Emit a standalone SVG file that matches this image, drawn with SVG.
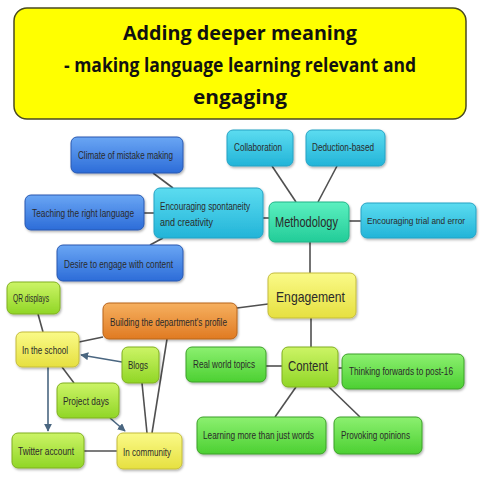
<svg xmlns="http://www.w3.org/2000/svg" width="480" height="480" viewBox="0 0 480 480">
<style>
.t{font-family:"Liberation Sans",Arial,sans-serif;font-size:10.5px;fill:#2a2a2a;}
.big{font-size:15px;}
.sm{font-size:9.5px;}
.title{font-family:"Open Sans","Liberation Sans",sans-serif;font-weight:bold;font-size:20px;fill:#111;text-anchor:middle;}
.c{stroke:#505050;stroke-width:1.6;fill:none;}
.a{stroke:#4a6680;stroke-width:1.6;fill:none;marker-end:url(#arr);}
rect.n{stroke-width:1;filter:url(#sh);}
.blue{fill:url(#gBlue);stroke:#2858b0;}
.cyan{fill:url(#gCyan);stroke:#26a2c4;}
.teal{fill:url(#gTeal);stroke:#20b488;}
.yel{fill:url(#gYel);stroke:#c4bc3c;}
.org{fill:url(#gOrg);stroke:#b8641c;}
.grn{fill:url(#gGrn);stroke:#3ca028;}
.lime{fill:url(#gLime);stroke:#80b020;}
</style>
<defs>
<filter id="sh" x="-10%" y="-10%" width="130%" height="140%"><feDropShadow dx="1" dy="1.5" stdDeviation="1" flood-color="#000" flood-opacity="0.3"/></filter>
<linearGradient id="gBlue" x1="0" y1="0" x2="0" y2="1"><stop offset="0" stop-color="#6aa6f4"/><stop offset="1" stop-color="#2c6cd8"/></linearGradient>
<linearGradient id="gCyan" x1="0" y1="0" x2="0" y2="1"><stop offset="0" stop-color="#5cdcf0"/><stop offset="1" stop-color="#22b4d8"/></linearGradient>
<linearGradient id="gTeal" x1="0" y1="0" x2="0" y2="1"><stop offset="0" stop-color="#5cf0c0"/><stop offset="1" stop-color="#22cc98"/></linearGradient>
<linearGradient id="gYel" x1="0" y1="0" x2="0" y2="1"><stop offset="0" stop-color="#fafa88"/><stop offset="1" stop-color="#e6e040"/></linearGradient>
<linearGradient id="gOrg" x1="0" y1="0" x2="0" y2="1"><stop offset="0" stop-color="#f6b060"/><stop offset="1" stop-color="#e07a22"/></linearGradient>
<linearGradient id="gGrn" x1="0" y1="0" x2="0" y2="1"><stop offset="0" stop-color="#8cf070"/><stop offset="1" stop-color="#4cd032"/></linearGradient>
<linearGradient id="gLime" x1="0" y1="0" x2="0" y2="1"><stop offset="0" stop-color="#ccf466"/><stop offset="1" stop-color="#90d626"/></linearGradient>
<marker id="arr" viewBox="0 0 10 10" refX="9" refY="5" markerWidth="5" markerHeight="5" orient="auto"><path d="M0,0 L10,5 L0,10 z" fill="#4a6680"/></marker>
</defs>
<rect width="480" height="480" fill="#fff"/>
<g id="title">
<rect x="14" y="8" width="452" height="111" rx="13" fill="#ffff00" stroke="#4a4a20" stroke-width="1.5"/>
<text class="title" x="240" y="40" textLength="234" lengthAdjust="spacingAndGlyphs">Adding deeper meaning</text>
<text class="title" x="240" y="72" textLength="352" lengthAdjust="spacingAndGlyphs">- making language learning relevant and</text>
<text class="title" x="240" y="104" textLength="94" lengthAdjust="spacingAndGlyphs">engaging</text>
</g>
<g id="connectors">
<line class="c" x1="153" y1="173" x2="173" y2="188"/>
<line class="c" x1="144" y1="213" x2="154" y2="213"/>
<line class="c" x1="150" y1="245" x2="163" y2="238"/>
<line class="c" x1="263" y1="218" x2="269" y2="218"/>
<line class="c" x1="272" y1="166" x2="296" y2="202"/>
<line class="c" x1="337" y1="166" x2="318" y2="202"/>
<line class="c" x1="349" y1="221" x2="361" y2="221"/>
<line class="c" x1="310" y1="242" x2="310" y2="273"/>
<line class="c" x1="237" y1="308" x2="268" y2="304"/>
<line class="c" x1="311" y1="318" x2="311" y2="347"/>
<line class="c" x1="266" y1="366" x2="282" y2="366"/>
<line class="c" x1="338" y1="368" x2="342" y2="368"/>
<line class="c" x1="296" y1="387" x2="275" y2="417"/>
<line class="c" x1="329" y1="387" x2="360" y2="417"/>
<line class="c" x1="79" y1="342" x2="103" y2="337"/>
<line class="c" x1="167" y1="339" x2="152" y2="433"/>
<line class="c" x1="142" y1="383" x2="147" y2="433"/>
<line class="c" x1="38" y1="314" x2="43" y2="332"/>
<line class="c" x1="62" y1="367" x2="74" y2="383"/>
<line class="c" x1="84" y1="451" x2="117" y2="451"/>
<line class="a" x1="122" y1="362" x2="81" y2="355"/>
<line class="a" x1="48" y1="367" x2="48" y2="431"/>
<line class="a" x1="110" y1="418" x2="125" y2="431"/>
</g>
<g id="climate"><rect class="n blue" x="71" y="137" width="112" height="36" rx="6"/><text class="t" x="78" y="159" textLength="95" lengthAdjust="spacingAndGlyphs">Climate of mistake making</text></g>
<g id="teaching"><rect class="n blue" x="25" y="195" width="119" height="35" rx="6"/><text class="t" x="32" y="217" textLength="102" lengthAdjust="spacingAndGlyphs">Teaching the right language</text></g>
<g id="desire"><rect class="n blue" x="57" y="245" width="126" height="36" rx="6"/><text class="t" x="64" y="268" textLength="109" lengthAdjust="spacingAndGlyphs">Desire to engage with content</text></g>
<g id="spontaneity"><rect class="n cyan" x="154" y="188" width="109" height="50" rx="6"/><text class="t" x="160" y="210" textLength="90" lengthAdjust="spacingAndGlyphs">Encouraging spontaneity</text><text class="t" x="160" y="226" textLength="53" lengthAdjust="spacingAndGlyphs">and creativity</text></g>
<g id="collaboration"><rect class="n cyan" x="227" y="130" width="66" height="36" rx="6"/><text class="t" x="234" y="151" textLength="48" lengthAdjust="spacingAndGlyphs">Collaboration</text></g>
<g id="deduction"><rect class="n cyan" x="306" y="130" width="79" height="36" rx="6"/><text class="t" x="312" y="151" textLength="62" lengthAdjust="spacingAndGlyphs">Deduction-based</text></g>
<g id="methodology"><rect class="n teal" x="269" y="202" width="80" height="40" rx="6"/><text class="t big" x="275" y="227" textLength="63" lengthAdjust="spacingAndGlyphs">Methodology</text></g>
<g id="trial"><rect class="n cyan" x="361" y="203" width="115" height="35" rx="6"/><text class="t sm" x="367" y="224" textLength="98" lengthAdjust="spacingAndGlyphs">Encouraging trial and error</text></g>
<g id="engagement"><rect class="n yel" x="268" y="273" width="88" height="45" rx="6"/><text class="t big" x="276" y="302" textLength="69" lengthAdjust="spacingAndGlyphs">Engagement</text></g>
<g id="building"><rect class="n org" x="103" y="303" width="134" height="36" rx="6"/><text class="t" x="110" y="326" textLength="117" lengthAdjust="spacingAndGlyphs">Building the department's profile</text></g>
<g id="realworld"><rect class="n grn" x="186" y="347" width="80" height="35" rx="6"/><text class="t" x="193" y="368" textLength="62" lengthAdjust="spacingAndGlyphs">Real world topics</text></g>
<g id="content"><rect class="n lime" x="282" y="347" width="56" height="40" rx="6"/><text class="t big" x="288" y="371" textLength="40" lengthAdjust="spacingAndGlyphs">Content</text></g>
<g id="thinking"><rect class="n grn" x="342" y="354" width="122" height="35" rx="6"/><text class="t" x="349" y="375" textLength="104" lengthAdjust="spacingAndGlyphs">Thinking forwards to post-16</text></g>
<g id="learning"><rect class="n grn" x="197" y="417" width="129" height="37" rx="6"/><text class="t" x="203" y="439" textLength="111" lengthAdjust="spacingAndGlyphs">Learning more than just words</text></g>
<g id="provoking"><rect class="n grn" x="334" y="417" width="88" height="37" rx="6"/><text class="t" x="341" y="439" textLength="69" lengthAdjust="spacingAndGlyphs">Provoking opinions</text></g>
<g id="qr"><rect class="n lime" x="7" y="282" width="53" height="32" rx="6"/><text class="t" x="13" y="302" textLength="36" lengthAdjust="spacingAndGlyphs">QR displays</text></g>
<g id="school"><rect class="n yel" x="16" y="332" width="63" height="35" rx="6"/><text class="t" x="22" y="354" textLength="46" lengthAdjust="spacingAndGlyphs">In the school</text></g>
<g id="blogs"><rect class="n lime" x="122" y="347" width="37" height="36" rx="6"/><text class="t" x="128" y="369" textLength="20" lengthAdjust="spacingAndGlyphs">Blogs</text></g>
<g id="project"><rect class="n lime" x="57" y="383" width="62" height="35" rx="6"/><text class="t" x="63" y="405" textLength="46" lengthAdjust="spacingAndGlyphs">Project days</text></g>
<g id="twitter"><rect class="n lime" x="12" y="433" width="72" height="35" rx="6"/><text class="t" x="18" y="455" textLength="56" lengthAdjust="spacingAndGlyphs">Twitter account</text></g>
<g id="community"><rect class="n yel" x="117" y="433" width="65" height="36" rx="6"/><text class="t" x="123" y="456" textLength="48" lengthAdjust="spacingAndGlyphs">In community</text></g>
</svg>
